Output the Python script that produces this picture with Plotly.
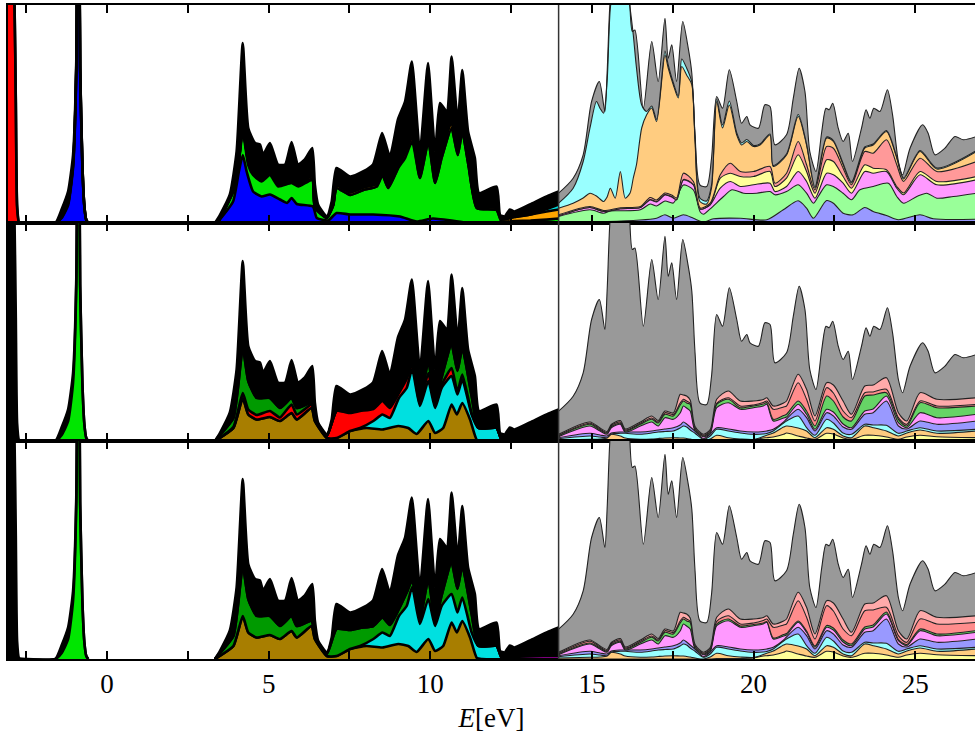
import plotly.graph_objects as go
from plotly.subplots import make_subplots

# ---------------- core levels (E < 0) ----------------
CORE_X = [-3.2, -3.0, -2.9, -2.86, -2.82, -2.78, -2.72, -2.6, -1.6, -1.4, -1.2, -1.05, -0.95, -0.89, -0.83, -0.76, -0.7, -0.64, -0.58]
CORE_BLUE = [0, 0, 0, 0, 0, 0, 0, 0, 0, 5, 18, 55, 150, 450, 150, 55, 16, 3, 0]
CORE_GREEN = [0, 0, 0, 0, 0, 0, 0, 0, 0, 6, 20, 58, 155, 460, 155, 57, 17, 3, 0]
CORE_RED = [400, 320, 250, 218, 120, 15, 0, 0, 0, 6, 20, 58, 155, 460, 155, 57, 17, 3, 0]
CORE_TOTAL = [400, 322, 252, 220, 123, 18, 1, 0, 0, 14, 32, 68, 162, 470, 157, 58, 17, 3, 0]

# ---------------- valence band (total) ----------------
VB_TOTAL_X = [3.34, 3.50, 3.80, 4.01, 4.20, 4.37, 4.58, 4.73, 4.83, 5.04, 5.29, 5.51, 5.71, 5.91, 6.12, 6.35, 6.43, 6.53, 6.80, 6.95, 7.10, 7.52, 7.92, 8.23, 8.51, 8.75, 9.00, 9.22, 9.43, 9.68, 9.93, 10.15, 10.30, 10.51, 10.66, 10.85, 10.99, 11.17, 11.38, 11.51, 12.05, 12.16, 12.30, 12.46, 12.60, 13.08, 13.60, 13.97]
VB_TOTAL_Y = [0, 8.5, 28.5, 71.5, 180, 95, 80, 78.5, 68.5, 80, 58.5, 58.5, 81, 58.5, 63.5, 75, 38.5, 18.5, 6.5, 21.5, 55, 46.5, 51.5, 58.5, 90, 66.5, 103.5, 121.5, 161.5, 71.5, 160, 71.5, 120, 111.5, 166.5, 101.5, 153, 91.5, 65, 30, 36.5, 8, 6.5, 13.5, 11.5, 18.5, 26.5, 31.5]

# panel 1 valence band (cumulative)
P1_VB_BLUE_X = [3.34, 3.39, 3.90, 4.08, 4.20, 4.32, 4.52, 4.78, 5.04, 5.35, 5.57, 5.71, 5.87, 6.37, 6.49, 6.84, 7.10, 7.52, 8.23, 9.06, 9.58, 10.08, 11.13, 11.5, 13.97]
P1_VB_BLUE_Y = [0, 0, 21.5, 51.5, 68, 51.5, 31.5, 26.5, 28.5, 23.5, 20, 25, 19, 16.5, 5, 2.5, 10, 8.5, 8.5, 6.5, 1.5, 4.5, 0.5, 0, 0]
P1_VB_X = [3.34, 3.44, 3.90, 4.08, 4.20, 4.37, 4.52, 4.78, 5.04, 5.30, 5.71, 5.92, 6.35, 6.43, 6.80, 7.00, 7.10, 7.52, 7.93, 8.34, 8.52, 8.70, 9.01, 9.22, 9.44, 9.68, 9.94, 10.15, 10.35, 10.66, 10.85, 10.99, 11.18, 11.44, 12.05, 12.21, 12.60, 13.10, 13.60, 13.97]
P1_VB_GREEN_Y = [0, 1.5, 31.5, 61.5, 91.5, 58, 48, 41.5, 48, 36.5, 40, 36.5, 43, 15, 5, 18, 35, 28, 33, 36.5, 48, 35, 55, 65, 81.5, 45, 81.5, 40, 65, 95, 68, 91.5, 58, 15, 13, 1.5, 2, 2.5, 3.5, 4.5]
P1_VB_RED_Y = [0, 1.5, 31.5, 62, 95, 60, 50, 43.5, 50, 38, 41.5, 38, 44.5, 16, 5, 18, 35, 28, 33, 36.5, 48, 35, 56, 70, 85.5, 45, 81.5, 40, 65, 95, 68, 91.5, 58, 15, 13, 1.5, 2, 2.5, 3.5, 4.5]
P1_VB_ORANGE_Y = [0, 1.5, 32.5, 63, 96, 61.5, 52, 45.5, 52, 40, 43.5, 40, 46.5, 17, 5.5, 19, 37.5, 30.5, 35.5, 39, 51, 38, 60, 74, 89.5, 49, 85.5, 45, 71, 100, 73, 95.5, 61, 17, 15, 3.5, 6, 8.5, 11.5, 13.5]
P1_VB_CYAN_Y = [0, 1.5, 32.5, 63, 96, 61.5, 52, 45.5, 52, 40, 43.5, 40, 46.5, 17, 5.5, 19, 37.5, 30.5, 35.5, 39, 51, 38, 60, 74, 89.5, 49, 85.5, 45, 71, 100, 73, 95.5, 61, 17, 15, 3.5, 6, 8.5, 14, 18.5]

# panels 2 & 3 valence band (cumulative)
P23_VB_OLIVE_X = [3.34, 3.39, 3.91, 4.20, 4.37, 4.63, 5.04, 5.35, 5.71, 5.87, 6.33, 6.43, 6.80, 7.10, 7.52, 8.03, 8.52, 9.01, 9.32, 9.58, 9.94, 10.15, 10.40, 10.66, 10.82, 10.99, 11.23, 11.44, 11.6, 13.97]
P23_VB_OLIVE_Y = [0, 1, 13, 43, 26.5, 21.5, 24, 20, 28, 21.5, 33, 20, 3, 3, 10, 13, 11.5, 15, 13, 7, 20, 8, 13, 36.5, 26.5, 38, 21.5, 1, 0, 0]
P23_VB_X = [3.34, 3.39, 3.91, 4.20, 4.37, 4.63, 5.04, 5.35, 5.71, 5.87, 6.33, 6.43, 6.80, 7.10, 7.52, 7.83, 8.24, 8.52, 8.75, 9.03, 9.27, 9.44, 9.68, 9.94, 10.15, 10.35, 10.66, 10.84, 10.99, 11.28, 11.49, 12.05, 12.21, 12.5, 13.0, 13.5, 13.97]
P23_VB_CYAN_Y = [0, 1, 13, 43, 26.5, 21.5, 24, 20, 28, 21.5, 33, 20, 3, 3, 10, 13, 20, 26.5, 23, 43, 53, 72, 35, 60, 33, 53, 65, 46.5, 61.5, 26.5, 13, 13, 1, 0, 0, 0, 0]
P2_VB_RED_Y = [0, 1, 14, 48, 31.5, 26, 30, 23.5, 36.5, 26.5, 36.5, 23, 5, 30, 28, 30, 32, 40, 33, 48, 62, 76, 37, 68, 35, 56, 73, 49, 66.5, 28, 13, 13, 1, 0, 0, 0, 0]
P23_VB_GREEN_Y = [0, 2, 23, 93, 60, 43, 43, 33, 43, 33, 38, 23, 5, 30, 29, 31, 33, 41.5, 34, 50, 66.5, 79, 40, 80, 36.5, 63.5, 96.5, 70, 93, 45, 13, 13, 1, 0, 0, 0, 0]
P23_VB_MAG_Y = [0, 2, 23, 93, 60, 43, 43, 33, 43, 33, 38, 23, 5, 30, 29, 31, 33, 41.5, 34, 50, 66.5, 79, 40, 80, 36.5, 63.5, 96.5, 70, 93, 45, 13, 13, 1.5, 2, 2.5, 3, 3]

# ---------------- conduction band (total, magnified) ----------------
CB_TOTAL_X = [13.97, 14.42, 14.73, 14.99, 15.23, 15.40, 15.47, 15.55, 15.65, 15.85, 16.05, 16.15, 16.25, 16.33, 16.59, 16.85, 17.05, 17.26, 17.36, 17.47, 17.62, 17.81, 17.98, 18.09, 18.19, 18.34, 18.55, 18.70, 18.86, 19.04, 19.25, 19.48, 19.63, 19.79, 19.89, 20.15, 20.35, 20.51, 20.66, 21.02, 21.23, 21.41, 21.59, 21.74, 21.93, 22.11, 22.24, 22.34, 22.45, 22.62, 22.77, 22.93, 23.06, 23.34, 23.48, 23.60, 23.72, 23.91, 24.14, 24.30, 24.48, 24.61, 24.84, 25.23, 25.40, 25.61, 25.92, 26.23, 26.49, 26.9]
CB_TOTAL_Y = [29.8, 44.8, 68.2, 121.5, 141.5, 111.5, 150, 215, 255, 275, 265, 235, 191.5, 193, 114.8, 181.5, 141.5, 204.8, 164.8, 178.2, 141.5, 201.5, 174.8, 149.8, 88.2, 38.2, 36.5, 64.8, 126.5, 114.8, 153.2, 121.5, 99.8, 106.5, 98.2, 94.8, 118.2, 116.5, 78.2, 88.2, 124.8, 154.8, 131.5, 71.5, 51.5, 91.5, 114.8, 113.2, 119.8, 94.8, 81.5, 89.8, 61.5, 94.8, 113.2, 104.8, 114.8, 111.5, 133.2, 108.2, 61.5, 48.2, 74.8, 98.2, 89.8, 68.2, 74.8, 86.5, 83.2, 86.5]

# panel 1 conduction band (cumulative)
P1_CB_PERI_X = [13.97, 15.47, 17.0, 17.26, 17.52, 17.83, 18.14, 18.45, 18.76, 19.59, 20.41, 20.92, 21.38, 21.64, 21.85, 22.26, 22.47, 22.77, 23.08, 23.44, 23.7, 24.11, 24.48, 25.15, 25.56, 26.9]
P1_CB_PERI_Y = [1.5, 1.5, 4.8, 8.2, 4.8, 8.2, 4.8, 0.8, 4.2, 4.8, 3.2, 13.2, 22.2, 14.8, 4.8, 22.5, 19.8, 9.8, 8.2, 15.5, 11.5, 7.5, 3.2, 8.2, 4.2, 3.8]
P1_CB_GREEN_X = [13.97, 14.94, 15.36, 15.57, 15.88, 16.5, 16.8, 17.0, 17.26, 17.52, 17.83, 18.14, 18.35, 18.45, 18.66, 19.07, 19.33, 19.69, 20.1, 20.51, 20.66, 21.02, 21.38, 21.64, 21.85, 22.0, 22.26, 22.47, 22.77, 23.03, 23.29, 23.7, 24.17, 24.43, 24.64, 25.05, 25.36, 25.67, 26.18, 26.9]
P1_CB_GREEN_Y = [6.5, 13.2, 9.8, 12, 12.2, 13.2, 19, 17, 22, 20, 38, 33, 11, 8.8, 14.2, 26.5, 33.2, 29.8, 29.8, 31.5, 28.2, 31.5, 38.2, 29.8, 19.8, 26.5, 38.2, 36.5, 29.8, 23.2, 33.2, 36.5, 39.8, 26.5, 19.8, 26.5, 29.8, 24.8, 26.5, 29.8]
P1_CB_X = [13.97, 14.94, 15.36, 15.88, 16.5, 16.8, 17.0, 17.26, 17.47, 17.62, 17.83, 18.14, 18.35, 18.66, 18.97, 19.28, 19.59, 20.0, 20.51, 20.66, 21.02, 21.38, 21.64, 21.9, 22.26, 22.47, 22.77, 23.03, 23.44, 23.7, 24.11, 24.43, 24.64, 25.15, 25.67, 26.9]
P1_CB_PINK_Y = [7.2, 15.5, 11.5, 14.2, 15.5, 23, 21, 28, 26, 23, 43, 38, 14, 18.2, 34.8, 41.5, 36.5, 38.2, 39.8, 31.5, 36.5, 51.5, 41.5, 24.8, 49.8, 48.2, 39.8, 29.8, 51.5, 49.8, 51.5, 34.8, 28.2, 48.2, 38.2, 43.2]
P1_CB_YELLOW_Y = [7.2, 15.5, 11.5, 14.2, 15.5, 23.5, 21.5, 28.5, 26.5, 23.5, 43.5, 38.5, 14, 18.5, 44.8, 49.8, 46.5, 46.5, 51.5, 36.5, 44.8, 68.2, 51.5, 29.8, 63.2, 61.5, 46.5, 34.8, 58.2, 54.8, 53.2, 36.5, 30, 51.5, 41.5, 46.5]
P1_CB_SALMON_Y = [8.2, 16.5, 12.5, 15.2, 16.5, 25.5, 23, 30, 28, 25, 49.8, 41.5, 15, 19.8, 48.2, 59.8, 51.5, 51.5, 56.5, 39.8, 49.8, 81.5, 58.2, 33.2, 76.5, 74.8, 54.8, 38.2, 71.5, 69.8, 83.2, 58.2, 41.5, 64.8, 51.5, 61.5]
P1_CB_OC_X = [13.97, 14.42, 14.73, 14.94, 15.14, 15.25, 15.36, 15.47, 15.57, 15.72, 15.88, 16.03, 16.18, 16.28, 16.38, 16.54, 16.69, 16.85, 17.0, 17.26, 17.36, 17.52, 17.67, 17.78, 17.93, 18.09, 18.19, 18.34, 18.55, 18.7, 18.86, 19.04, 19.25, 19.48, 19.63, 19.79, 20.0, 20.2, 20.51, 20.61, 21.02, 21.38, 21.64, 21.9, 22.26, 22.47, 22.77, 23.03, 23.44, 23.7, 24.11, 24.43, 24.64, 25.15, 25.67, 26.9]
P1_CB_ORANGE_Y = [14.8, 19.8, 25, 29.8, 27, 24, 21.5, 26, 34.8, 24.8, 51.5, 24.8, 30, 45, 58.5, 95, 108, 115, 101.5, 168, 155, 138, 125, 156.5, 148, 138.5, 82, 21.5, 19, 35, 121.5, 95, 118, 88, 78, 81.5, 76.5, 78, 88, 56.5, 68, 106.5, 78, 35, 85, 81.5, 58.5, 40, 75, 78, 91.5, 65, 44, 71.5, 54, 71.5]
P1_CB_CYAN_Y = [19.8, 34.8, 61.5, 95, 121.5, 114.8, 109.8, 141.5, 214.8, 245, 260, 245, 215, 188, 154.8, 118, 111.5, 117, 103.5, 172, 158, 140, 127, 164, 155, 141, 85, 25, 22, 38, 124, 98, 122, 90, 80, 83.5, 77.5, 79, 89, 57.5, 69, 108.5, 79, 36, 86, 82.5, 59.5, 41, 76, 79, 92.5, 66, 45, 72.5, 55, 72.5]

# panels 2 & 3 conduction band (cumulative)
P23_CB_X = [13.97, 14.94, 15.25, 15.47, 15.6, 15.88, 16.03, 16.5, 16.85, 17.05, 17.26, 17.52, 17.73, 17.83, 17.93, 18.04, 18.19, 18.45, 18.66, 18.86, 19.22, 19.59, 20.0, 20.3, 20.41, 20.61, 20.93, 21.02, 21.38, 21.64, 21.9, 22.26, 22.47, 22.77, 23.03, 23.44, 23.7, 24.11, 24.48, 24.74, 25.15, 25.67, 26.9]
P23_CB_YELLOW_Y = [0, 0, 0, 0, 0, 0, 0, 0, 0, 0, 0, 0, 0, 0, 0, 0, 0, 0, 0, 0.5, 0.5, 0.5, 1, 3, 3.3, 4, 6.7, 8, 5, 3, 1.7, 7.7, 7, 3, 1.7, 5.7, 5.7, 4, 1.7, 4, 5.7, 4.3, 3.3]
P23_CB_ORANGE_Y = [1, 1.7, 2, 3, 6.7, 5, 3, 1.7, 2, 2.5, 3, 3.3, 3, 3, 2.5, 2, 1, 0, 2, 5.7, 3.3, 2, 1.5, 4.5, 5.7, 8, 14, 15, 13, 10, 3.3, 13.3, 11.7, 5, 3.3, 15, 13.3, 10, 5, 8, 11, 7.7, 10]
P23_CB_CYAN_Y = [2.3, 5, 4, 3.3, 7, 7.7, 7.7, 6.7, 8, 9, 9.5, 10, 13, 15, 14, 11, 7.7, 1.7, 5, 11.7, 10, 8, 6.7, 7, 7.5, 10, 18, 20, 25, 13.3, 5.7, 21.7, 18, 8, 6.7, 16.7, 16, 15.7, 7.7, 10, 13.3, 10, 11.7]
P23_CB_PERI_Y = [3.3, 7.7, 6, 5, 8, 9, 9, 9, 10, 11, 12, 13.3, 16, 19, 17, 14, 10, 2.3, 7, 13.3, 12, 10, 9, 9.5, 10, 11.7, 19, 22, 31.7, 23.3, 10, 28.3, 25, 14, 11.7, 26.7, 28.3, 40, 15, 12, 20, 16.7, 20]
P23_CB_PINK_Y = [4.3, 15, 10, 6.7, 13.3, 16.7, 9, 15, 19, 15, 23.3, 21.7, 28, 35, 33, 30, 10, 4.3, 7.7, 33.3, 38.3, 31.7, 33.3, 35, 36.7, 20, 23, 24, 36.7, 26.7, 11.7, 31.7, 29, 17, 13.3, 30, 32, 45, 18.3, 13.3, 28.3, 23.3, 26.7]
P2_CB_GREEN_Y = [5, 16.7, 11, 7.7, 14.5, 17.7, 10, 16.7, 21.7, 18, 26.7, 25, 36, 40, 38, 36.7, 11.7, 5, 9, 36.7, 41.7, 33.3, 35, 37, 38.3, 21.7, 25.5, 26.7, 40, 30, 15, 45, 40, 24, 20, 45, 46, 48.3, 21.7, 15, 38.3, 33.3, 35]
P3_CB_GREEN_Y = [5, 16, 11, 7.5, 14.5, 17.7, 10, 16.5, 21.7, 18, 26.7, 25, 36, 40, 38, 36.7, 11.7, 5, 9, 35, 40, 33, 34.5, 36, 37.5, 21, 24.5, 25.5, 38, 28, 13, 33.5, 31, 19, 15, 32, 34, 47, 19.5, 14.5, 30, 25, 28.5]
P23_CB_SALMON_Y = [5.7, 17.7, 12, 8.5, 15.5, 19, 11, 17.7, 23, 19, 28.3, 26.5, 38, 41.7, 40, 38, 13, 5.7, 10, 37.7, 43.3, 35, 36, 38.5, 40, 31.7, 34, 35, 58.3, 41.7, 20, 53.3, 48, 30, 23.3, 48.3, 49, 51.7, 23.3, 16.7, 40, 35, 36.7]
P23_CB_ROSE_Y = [6.7, 19, 13, 9.5, 16.5, 20.5, 12, 19, 25, 20.5, 30, 28, 46.7, 46, 45, 41, 14.5, 6.7, 11.5, 41.7, 50, 40, 40, 41.5, 43.3, 35, 38, 40, 66.7, 51.7, 25, 58.3, 56, 40, 26.7, 55, 56, 63.3, 28.3, 20, 48.3, 41.7, 43.3]

TICK_LABELS = [0, 5, 10, 15, 20, 25]
X_RANGE = [-3.062, 26.85]
Y_RANGE = [0, 218]

fig = make_subplots(rows=3, cols=1, shared_xaxes=True, vertical_spacing=0)


def stack(row, layers, lw, lc, smooth=0.5):
    for i, (xs, ys, color) in enumerate(layers):
        fig.add_trace(go.Scatter(
            x=xs, y=ys, mode='lines',
            line=dict(color=lc, width=lw, shape='spline', smoothing=smooth),
            fill='tozeroy' if i == 0 else 'tonexty', fillcolor=color,
            hoverinfo='skip', showlegend=False), row=row, col=1)


BLUE, LIME, RED, ORANGE, CYAN, BLACK = '#0000ff', '#00e600', '#ff0000', '#ffa500', '#00e0e0', '#000000'
OLIVE, DKGREEN, MAGENTA = '#a87e00', '#009a00', '#e000e0'
C_PERI, C_LGREEN, C_PINK, C_YEL, C_SAL, C_ORA, C_CYA, C_GRAY = '#9999ff', '#99ff99', '#ff99ff', '#ffff99', '#ff9999', '#ffcc80', '#99ffff', '#999999'
C_MGREEN, C_DSAL, C_LSAL = '#66d466', '#ff8c8c', '#ffaaaa'

VB_LW = 2.6
CB_LW = 1.1
CB_SMOOTH = 0.75

# ---- panel 1 ----
stack(1, [(CORE_X, CORE_BLUE, BLUE), (CORE_X, CORE_GREEN, LIME), (CORE_X, CORE_RED, RED), (CORE_X, CORE_TOTAL, BLACK)], VB_LW, BLACK)
stack(1, [(P1_VB_BLUE_X, P1_VB_BLUE_Y, BLUE), (P1_VB_X, P1_VB_GREEN_Y, LIME), (P1_VB_X, P1_VB_RED_Y, RED),
          (P1_VB_X, P1_VB_ORANGE_Y, ORANGE), (P1_VB_X, P1_VB_CYAN_Y, CYAN), (VB_TOTAL_X, VB_TOTAL_Y, BLACK)], VB_LW, BLACK)
stack(1, [(P1_CB_PERI_X, P1_CB_PERI_Y, C_PERI), (P1_CB_GREEN_X, P1_CB_GREEN_Y, C_LGREEN), (P1_CB_X, P1_CB_PINK_Y, C_PINK),
          (P1_CB_X, P1_CB_YELLOW_Y, C_YEL), (P1_CB_X, P1_CB_SALMON_Y, C_SAL), (P1_CB_OC_X, P1_CB_ORANGE_Y, C_ORA),
          (P1_CB_OC_X, P1_CB_CYAN_Y, C_CYA), (CB_TOTAL_X, CB_TOTAL_Y, C_GRAY)], CB_LW, '#222222', CB_SMOOTH)

# ---- panels 2 and 3 ----
for row in (2, 3):
    stack(row, [(CORE_X, CORE_GREEN, LIME), (CORE_X, CORE_TOTAL, BLACK)], VB_LW, BLACK)
    vb = [(P23_VB_OLIVE_X, P23_VB_OLIVE_Y, OLIVE), (P23_VB_X, P23_VB_CYAN_Y, CYAN)]
    if row == 2:
        vb.append((P23_VB_X, P2_VB_RED_Y, RED))
    vb += [(P23_VB_X, P23_VB_GREEN_Y, DKGREEN), (P23_VB_X, P23_VB_MAG_Y, MAGENTA), (VB_TOTAL_X, VB_TOTAL_Y, BLACK)]
    stack(row, vb, VB_LW, BLACK)
    green = P2_CB_GREEN_Y if row == 2 else P3_CB_GREEN_Y
    stack(row, [(P23_CB_X, P23_CB_YELLOW_Y, C_YEL), (P23_CB_X, P23_CB_ORANGE_Y, C_ORA), (P23_CB_X, P23_CB_CYAN_Y, C_CYA),
                (P23_CB_X, P23_CB_PERI_Y, C_PERI), (P23_CB_X, P23_CB_PINK_Y, C_PINK), (P23_CB_X, green, C_MGREEN),
                (P23_CB_X, P23_CB_SALMON_Y, C_DSAL), (P23_CB_X, P23_CB_ROSE_Y, C_LSAL), (CB_TOTAL_X, CB_TOTAL_Y, C_GRAY)],
          CB_LW, '#222222', CB_SMOOTH)

FONT = 'Liberation Serif'
for row in (1, 2, 3):
    fig.update_xaxes(range=X_RANGE, showline=True, linewidth=2, linecolor='black', mirror='ticks',
                     ticks='inside', ticklen=8, tickwidth=2, tickcolor='black',
                     tickvals=TICK_LABELS, ticktext=[str(v) for v in TICK_LABELS],
                     minor=dict(dtick=2.5, tick0=0, ticks='inside', ticklen=8, tickwidth=2, tickcolor='black'),
                     showgrid=False, zeroline=False, tickfont=dict(family=FONT, size=27, color='black'),
                     row=row, col=1)
    fig.update_yaxes(range=Y_RANGE, showline=True, linewidth=2, linecolor='black', mirror=False,
                     ticks='', showticklabels=False, showgrid=False, zeroline=False, row=row, col=1)

fig.update_xaxes(title=dict(text='<i>E</i>[eV]', font=dict(family=FONT, size=27, color='black'), standoff=10), row=3, col=1)

fig.add_shape(type='line', x0=13.97, x1=13.97, y0=0, y1=1, xref='x', yref='paper',
              line=dict(color='#333333', width=1.5), layer='above')

fig.update_layout(width=975, height=744, margin=dict(l=8, r=0, t=5, b=85),
                  paper_bgcolor='white', plot_bgcolor='white', showlegend=False)

fig.write_html('out.html', config={'displayModeBar': False},
               post_script="document.body.style.margin='0';document.body.style.padding='0';")
